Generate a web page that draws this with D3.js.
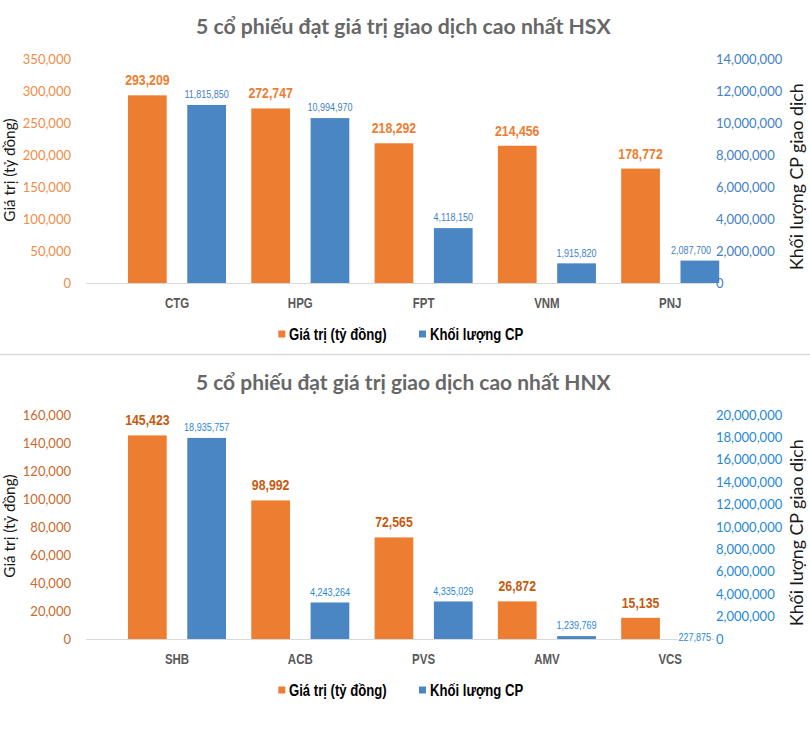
<!DOCTYPE html>
<html>
<head>
<meta charset="utf-8">
<script src="https://cdn.jsdelivr.net/npm/d3@7"></script>
<style>
  html, body { margin: 0; padding: 0; background: #fff; }
  svg { display: block; }
</style>
</head>
<body>
<svg id="chart" width="810" height="736"></svg>
<script>
// ---------------- DATA ----------------
const titleHSX = "5 cổ phiếu đạt giá trị giao dịch cao nhất HSX";
const categoriesHSX = ["CTG", "HPG", "FPT", "VNM", "PNJ"];
const valueHSX = [293209, 272747, 218292, 214456, 178772];
const volumeHSX = [11815850, 10994970, 4118150, 1915820, 2087700];
const leftTicksHSX = [0, 50000, 100000, 150000, 200000, 250000, 300000, 350000];
const rightTicksHSX = [0, 2000000, 4000000, 6000000, 8000000, 10000000, 12000000, 14000000];

const titleHNX = "5 cổ phiếu đạt giá trị giao dịch cao nhất HNX";
const categoriesHNX = ["SHB", "ACB", "PVS", "AMV", "VCS"];
const valueHNX = [145423, 98992, 72565, 26872, 15135];
const volumeHNX = [18935757, 4243264, 4335029, 1239769, 227875];
const leftTicksHNX = [0, 20000, 40000, 60000, 80000, 100000, 120000, 140000, 160000];
const rightTicksHNX = [0, 2000000, 4000000, 6000000, 8000000, 10000000, 12000000, 14000000, 16000000, 18000000, 20000000];

const seriesNames = ["Giá trị (tỷ đồng)", "Khối lượng CP"];
const leftAxisTitle = "Giá trị (tỷ đồng)";
const rightAxisTitle = "Khối lượng CP giao dịch";

// ---------------- STYLE / LAYOUT ----------------
const ORANGE = "#ED7D31";
const BLUE = "#4A86C3";
const NARROW = 0.82;
const fmt = d3.format(",");
const svg = d3.select("#chart");

function fitFont(sel, target) {
  const node = sel.node();
  const fs = parseFloat(sel.attr("font-size"));
  const w = node.getComputedTextLength();
  if (w > 0) sel.attr("font-size", (fs * target / w).toFixed(2));
}

const charts = [
  { oy: 0, title: titleHSX, cats: categoriesHSX, vals: valueHSX, vols: volumeHSX,
    lt: leftTicksHSX, rt: rightTicksHSX,
    valLabel: "#ED7D31", volLabel: "#3F7FC3", leftTick: "#F08C47", rightTick: "#3F80C6" },
  { oy: 356, title: titleHNX, cats: categoriesHNX, vals: valueHNX, vols: volumeHNX,
    lt: leftTicksHNX, rt: rightTicksHNX,
    valLabel: "#C55A11", volLabel: "#2A88D6", leftTick: "#C86A2C", rightTick: "#1F88D6" }
];

// separator between the two charts
svg.append("line").attr("x1", 0).attr("x2", 810).attr("y1", 354.5).attr("y2", 354.5)
  .attr("stroke", "#D9D9D9").attr("stroke-width", 1.5);

charts.forEach(c => {
  const g = svg.append("g").attr("transform", `translate(0,${c.oy})`);
  const top = 59, base = 283, shift = 11, plotRight = 711;

  const yL = d3.scaleLinear().domain([0, d3.max(c.lt)]).range([base, top]);
  const yR = d3.scaleLinear().domain([0, d3.max(c.rt)]).range([base, top]);
  const yVol = yR.copy().range([base + shift, top + shift]);

  const x = d3.scaleBand().domain(c.cats).range([115.35, 731.85]);
  const xs = d3.scaleBand().domain(["val", "vol"]).range([0, x.bandwidth()])
    .paddingInner(0.347).paddingOuter(0.213);

  // title
  const t = g.append("text").text(c.title)
    .attr("x", 403.3).attr("y", 26.7).attr("dy", "0.36em")
    .attr("text-anchor", "middle").attr("font-family", "Lato").attr("font-weight", "bold")
    .attr("font-size", 20).attr("fill", "#676767");
  fitFont(t, 414.7);

  // baseline axis line
  g.append("line").attr("x1", 86).attr("x2", 714).attr("y1", base + 0.5).attr("y2", base + 0.5)
    .attr("stroke", "#D9D9D9").attr("stroke-width", 1.2);

  const rows = c.cats.map((k, i) => ({ cat: k, val: c.vals[i], vol: c.vols[i] }));

  // value bars
  g.selectAll(".bv").data(rows).join("rect")
    .attr("x", d => x(d.cat) + xs("val")).attr("width", xs.bandwidth())
    .attr("y", d => yL(d.val)).attr("height", d => base - yL(d.val))
    .attr("fill", ORANGE);
  // volume bars
  g.selectAll(".bq").data(rows).join("rect")
    .attr("x", d => x(d.cat) + xs("vol")).attr("width", xs.bandwidth())
    .attr("y", d => Math.min(base, yVol(d.vol))).attr("height", d => Math.max(0, base - yVol(d.vol)))
    .attr("fill", BLUE);

  // value labels
  g.selectAll(".lv").data(rows).join("text")
    .attr("transform", d => `translate(${x(d.cat) + xs("val") + xs.bandwidth() / 2},${yL(d.val) - 10}) scale(${NARROW},1)`)
    .attr("text-anchor", "middle").attr("font-family", "Liberation Sans").attr("font-weight", "bold")
    .attr("font-size", 15).attr("fill", c.valLabel).text(d => fmt(d.val));

  // volume labels (white backing hides the axis line; kept inside the plot area)
  const vq = g.selectAll(".lq").data(rows).join("g");
  vq.append("text")
    .attr("text-anchor", "middle").attr("font-family", "Liberation Sans")
    .attr("font-size", 11).attr("fill", c.volLabel).text(d => fmt(d.vol));
  vq.each(function (d) {
    const gg = d3.select(this);
    const bb = gg.select("text").node().getBBox();
    gg.insert("rect", "text").attr("x", bb.x - 1).attr("y", bb.y)
      .attr("width", bb.width + 2).attr("height", bb.height).attr("fill", "#fff");
    let cx = x(d.cat) + xs("vol") + xs.bandwidth() / 2;
    const half = bb.width * NARROW / 2;
    if (cx + half > plotRight) cx = plotRight - half;
    gg.attr("transform", `translate(${cx},${yVol(d.vol) - 6.8}) scale(${NARROW},1)`);
  });

  // left axis
  const la = g.append("g").attr("transform", "translate(74,0)")
    .call(d3.axisLeft(yL).tickValues(c.lt).tickFormat(fmt).tickSize(0).tickPadding(3));
  la.select(".domain").remove();
  la.selectAll("text").attr("font-family", "Lato").attr("font-size", 13).attr("fill", c.leftTick);

  // right axis
  const ra = g.append("g").attr("transform", "translate(713,0)")
    .call(d3.axisRight(yR).tickValues(c.rt).tickFormat(fmt).tickSize(0).tickPadding(3));
  ra.select(".domain").remove();
  ra.selectAll("text").attr("font-family", "Lato").attr("font-size", 13).attr("fill", c.rightTick);

  // category axis
  const ca = g.append("g").attr("transform", `translate(0,${base})`)
    .call(d3.axisBottom(x).tickSize(0).tickPadding(0));
  ca.select(".domain").remove();
  ca.selectAll("text").attr("dy", null).attr("y", 24.7)
    .attr("font-family", "Liberation Sans").attr("font-weight", "bold").attr("font-size", 14)
    .attr("fill", "#595959")
    .attr("transform", `scale(${NARROW},1)`);

  // axis titles
  const lt = g.append("text").text(leftAxisTitle)
    .attr("transform", `translate(9.5,170) rotate(-90)`).attr("dy", "0.33em")
    .attr("text-anchor", "middle").attr("font-family", "Lato").attr("font-size", 15)
    .attr("fill", "#1a1a1a");
  fitFont(lt, 103.4);
  const rtt = g.append("text").text(rightAxisTitle)
    .attr("transform", `translate(797,176.7) rotate(-90)`).attr("dy", "0.33em")
    .attr("text-anchor", "middle").attr("font-family", "Lato").attr("font-size", 17)
    .attr("fill", "#1a1a1a");
  fitFont(rtt, 187);

  // legend
  const legendItems = [
    { name: seriesNames[0], color: ORANGE, sx: 278.3, tx: 289 },
    { name: seriesNames[1], color: BLUE, sx: 419, tx: 430 }
  ];
  const lg = g.append("g");
  legendItems.forEach(it => {
    lg.append("rect").attr("x", it.sx).attr("y", 330.5).attr("width", 7).attr("height", 7).attr("fill", it.color);
    lg.append("text").attr("transform", `translate(${it.tx},339.6) scale(${NARROW},1)`)
      .attr("font-family", "Liberation Sans").attr("font-weight", "bold").attr("font-size", 16)
      .attr("fill", "#000").text(it.name);
  });
});
</script>
</body>
</html>
